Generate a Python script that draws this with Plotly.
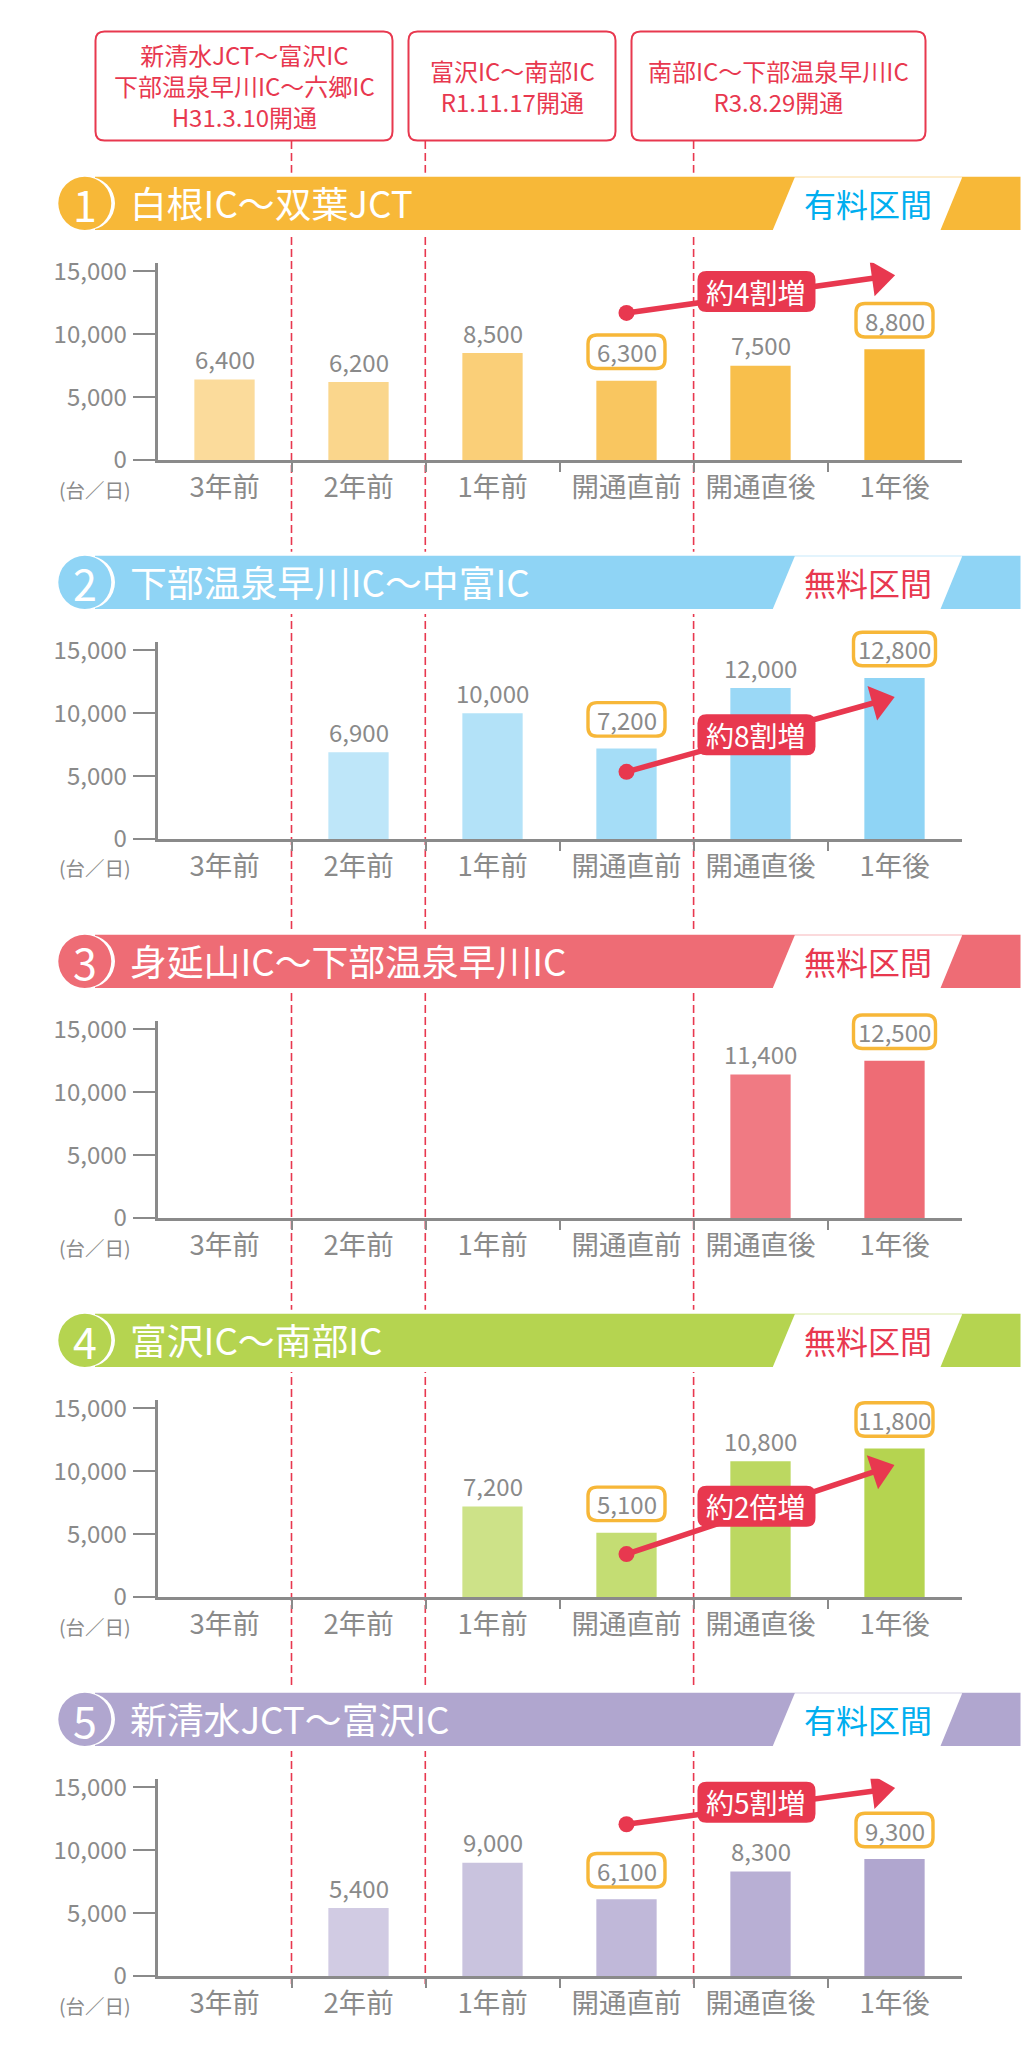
import plotly.graph_objects as go

# data
periods = ["3年前", "2年前", "1年前", "開通直前", "開通直後", "1年後"]
sections = ["白根IC～双葉JCT", "下部温泉早川IC～中富IC", "身延山IC～下部温泉早川IC", "富沢IC～南部IC", "新清水JCT～富沢IC"]
fee_labels = ["有料区間", "無料区間", "無料区間", "無料区間", "有料区間"]
traffic_1 = [6400, 6200, 8500, 6300, 7500, 8800]
traffic_2 = [None, 6900, 10000, 7200, 12000, 12800]
traffic_3 = [None, None, None, None, 11400, 12500]
traffic_4 = [None, None, 7200, 5100, 10800, 11800]
traffic_5 = [None, 5400, 9000, 6100, 8300, 9300]
highlight_1 = [3, 5]
highlight_2 = [3, 5]
highlight_3 = [5]
highlight_4 = [3, 5]
highlight_5 = [3, 5]
growth_labels = ["約4割増", "約8割増", None, "約2倍増", "約5割増"]
arrow_from = [11690, 5340, None, 3410, 12060]
arrow_to = [14520, 10950, None, 10110, 14770]
badge_y = [13390, 8290, None, 7220, 13810]
opening_notes = [
    "新清水JCT～富沢IC<br>下部温泉早川IC～六郷IC<br>H31.3.10開通",
    "富沢IC～南部IC<br>R1.11.17開通",
    "南部IC～下部温泉早川IC<br>R3.8.29開通",
]
y_ticks = [0, 5000, 10000, 15000]

# styling
band_colors = ["#F7B838", "#8FD4F5", "#EE6C75", "#B5D450", "#B0A6CF"]
bar_opacity = [0.5, 0.58, 0.68, 0.8, 0.9, 1]
fee_colors = {"有料区間": "#00AEEF", "無料区間": "#E8384F"}
RED = "#E8384F"
GREY = "#8A8A8A"
AMBER = "#F7B738"
CJK = "Noto Sans CJK JP"
W, H = 1024, 2068
STEP = 379
Y_MAX = 15683
PLOT_TOP, PLOT_BASE = 262.7, 460
X_LEFT, X_RIGHT = 157.5, 961.5


def fx(px):
    return px / W


def fy(py):
    return 1 - py / H


def rounded(w, h, r, cy=0):
    # rounded box in pixels around the anchor, cy pixels above it
    x0, x1 = -w / 2, w / 2
    y0, y1 = cy - h / 2, cy + h / 2
    return (
        f"M{x0 + r},{y0} L{x1 - r},{y0} Q{x1},{y0} {x1},{y0 + r} L{x1},{y1 - r} Q{x1},{y1} {x1 - r},{y1} "
        f"L{x0 + r},{y1} Q{x0},{y1} {x0},{y1 - r} L{x0},{y0 + r} Q{x0},{y0} {x0 + r},{y0} Z"
    )


def poly(points):
    return "M" + " L".join(f"{fx(x)},{fy(y)}" for x, y in points) + " Z"


def text(txt, x, y, size, color, anchor="center"):
    return dict(text=txt, x=fx(x), y=fy(y), xref="paper", yref="paper", showarrow=False,
                xanchor=anchor, yanchor="middle", font=dict(family=CJK, size=size, color=color))


fig = go.Figure()
shapes = []
notes = []

# dashed opening lines, the bands cover them further down
for x in [291.5, 425.3, 693.6]:
    shapes.append(dict(type="line", xref="paper", yref="paper", x0=fx(x), x1=fx(x), y0=fy(141), y1=fy(1984),
                       line=dict(color=RED, width=1.6, dash="8px,4px"), layer="below"))

# opening date boxes
for note, (x0, x1) in zip(opening_notes, [(95.5, 392.5), (408.5, 615.5), (631.5, 925.5)]):
    shapes.append(dict(type="path", xref="paper", yref="paper", xsizemode="pixel", ysizemode="pixel",
                       xanchor=fx((x0 + x1) / 2), yanchor=fy(86), path=rounded(x1 - x0, 109, 9),
                       fillcolor="white", line=dict(color=RED, width=2), layer="below"))
    notes.append(text(note, (x0 + x1) / 2, 86, 24, RED))

all_traffic = [traffic_1, traffic_2, traffic_3, traffic_4, traffic_5]
all_highlight = [highlight_1, highlight_2, highlight_3, highlight_4, highlight_5]

for k, traffic in enumerate(all_traffic):
    dy = STEP * k
    n = "" if k == 0 else str(k + 1)
    color = band_colors[k]
    top, bottom = 176.7 + dy, 230 + dy
    mid = (top + bottom) / 2

    # header band
    shapes.append(dict(type="rect", xref="paper", yref="paper", x0=0, x1=1, y0=fy(top - 4), y1=fy(bottom + 5),
                       fillcolor="white", line_width=0, layer="below"))
    shapes.append(dict(type="rect", xref="paper", yref="paper", x0=fx(95), x1=fx(1020.5), y0=fy(top), y1=fy(bottom),
                       fillcolor=color, line_width=0, layer="below"))
    shapes.append(dict(type="path", xref="paper", yref="paper", layer="below", fillcolor="white", line_width=0,
                       path=poly([(794.8, top + 0.5), (962.2, top + 0.5), (940.5, bottom), (772.8, bottom)])))
    shapes.append(dict(type="circle", xref="paper", yref="paper", x0=fx(61), x1=fx(115), y0=fy(top), y1=fy(bottom),
                       fillcolor="white", line_width=0, layer="below"))
    shapes.append(dict(type="circle", xref="paper", yref="paper", x0=fx(58.3), x1=fx(111.3), y0=fy(top), y1=fy(bottom),
                       fillcolor=color, line_width=0, layer="below"))
    notes.append(text(str(k + 1), 85, mid, 43, "white"))
    notes.append(text(sections[k], 128, mid - 1, 36.8, "white", anchor="left"))
    notes.append(text(fee_labels[k], 868, mid, 32, fee_colors[fee_labels[k]]))
    notes.append(text("(台／日)", 95, 489 + dy, 19.5, GREY))

    # bars
    fig.add_trace(go.Bar(
        x=list(range(len(periods))), y=traffic, width=0.45,
        marker=dict(color=color, opacity=bar_opacity, line_width=0),
        xaxis="x" + n, yaxis="y" + n, showlegend=False, hoverinfo="skip",
    ))

    # value labels, the picked ones sit in an amber box
    for i, value in enumerate(traffic):
        if value is None:
            continue
        picked = i in all_highlight[k]
        notes.append(dict(text=f"{value:,}", x=i, y=value, xref="x" + n, yref="y" + n, showarrow=False,
                          yanchor="middle", yshift=29 if picked else 21,
                          font=dict(family=CJK, size=24, color=GREY)))
        if picked:
            # paper anchored, the box can stand above the top of the axis
            bar_top = PLOT_BASE + dy - value / Y_MAX * (PLOT_BASE - PLOT_TOP)
            bar_x = X_LEFT + (i + 0.5) / len(periods) * (X_RIGHT - X_LEFT)
            shapes.append(dict(type="path", xref="paper", yref="paper", xsizemode="pixel", ysizemode="pixel",
                               xanchor=fx(bar_x), yanchor=fy(bar_top),
                               path=rounded(82 if value >= 12000 else 77, 33.5, 9, cy=29),
                               fillcolor="white", line=dict(color=AMBER, width=3.4), layer="below"))

    # growth arrow and its badge
    if growth_labels[k]:
        fig.add_trace(go.Scatter(
            x=[3, 4.89], y=[arrow_from[k], arrow_to[k]], mode="lines+markers",
            line=dict(color=RED, width=5.5),
            marker=dict(color=RED, size=[0, 31], opacity=1, symbol="triangle-up", angleref="previous", line_width=0),
            xaxis="x" + n, yaxis="y" + n, showlegend=False, hoverinfo="skip",
        ))
        fig.add_trace(go.Scatter(
            x=[3], y=[arrow_from[k]], mode="markers",
            marker=dict(color=RED, size=16, line_width=0),
            xaxis="x" + n, yaxis="y" + n, showlegend=False, hoverinfo="skip",
        ))
        shapes.append(dict(type="path", xref="x" + n, yref="y" + n, xsizemode="pixel", ysizemode="pixel",
                           xanchor=3.97, yanchor=badge_y[k], path=rounded(118, 41, 9),
                           fillcolor=RED, line_width=0, layer="above"))
        notes.append(dict(text=growth_labels[k], x=3.97, y=badge_y[k], xref="x" + n, yref="y" + n, showarrow=False,
                          yanchor="middle", font=dict(family=CJK, size=28, color="white")))

    # axes
    fig.update_layout(**{
        "xaxis" + n: dict(
            domain=[fx(X_LEFT), fx(X_RIGHT)], range=[-0.5, 5.5], anchor="y" + n, automargin=False,
            tickvals=list(range(len(periods))), ticktext=periods, ticks="", ticklabelstandoff=1,
            tickfont=dict(family=CJK, size=27.5, color=GREY), showgrid=False, zeroline=False,
            showline=True, linecolor=GREY, linewidth=2.6,
            minor=dict(tickvals=[0.5, 1.5, 2.5, 3.5, 4.5], ticks="outside", ticklen=9, tickwidth=2.2,
                       tickcolor=GREY, showgrid=False),
        ),
        "yaxis" + n: dict(
            domain=[fy(PLOT_BASE + dy), fy(PLOT_TOP + dy)], range=[0, Y_MAX], anchor="x" + n, automargin=False,
            tickvals=y_ticks, tickformat=",", ticks="outside", ticklen=22, tickwidth=2.2, tickcolor=GREY,
            ticklabelstandoff=1, tickfont=dict(family=CJK, size=24, color=GREY), showgrid=False, zeroline=False,
            showline=True, linecolor=GREY, linewidth=2.6,
        ),
    })

fig.update_layout(
    width=W, height=H, margin=dict(l=0, r=0, t=0, b=0),
    paper_bgcolor="white", plot_bgcolor="rgba(0,0,0,0)",
    font=dict(family=CJK), showlegend=False,
    shapes=shapes, annotations=notes,
)

fig.write_html("out.html", config={"displayModeBar": False}, post_script="document.body.style.margin='0';")
